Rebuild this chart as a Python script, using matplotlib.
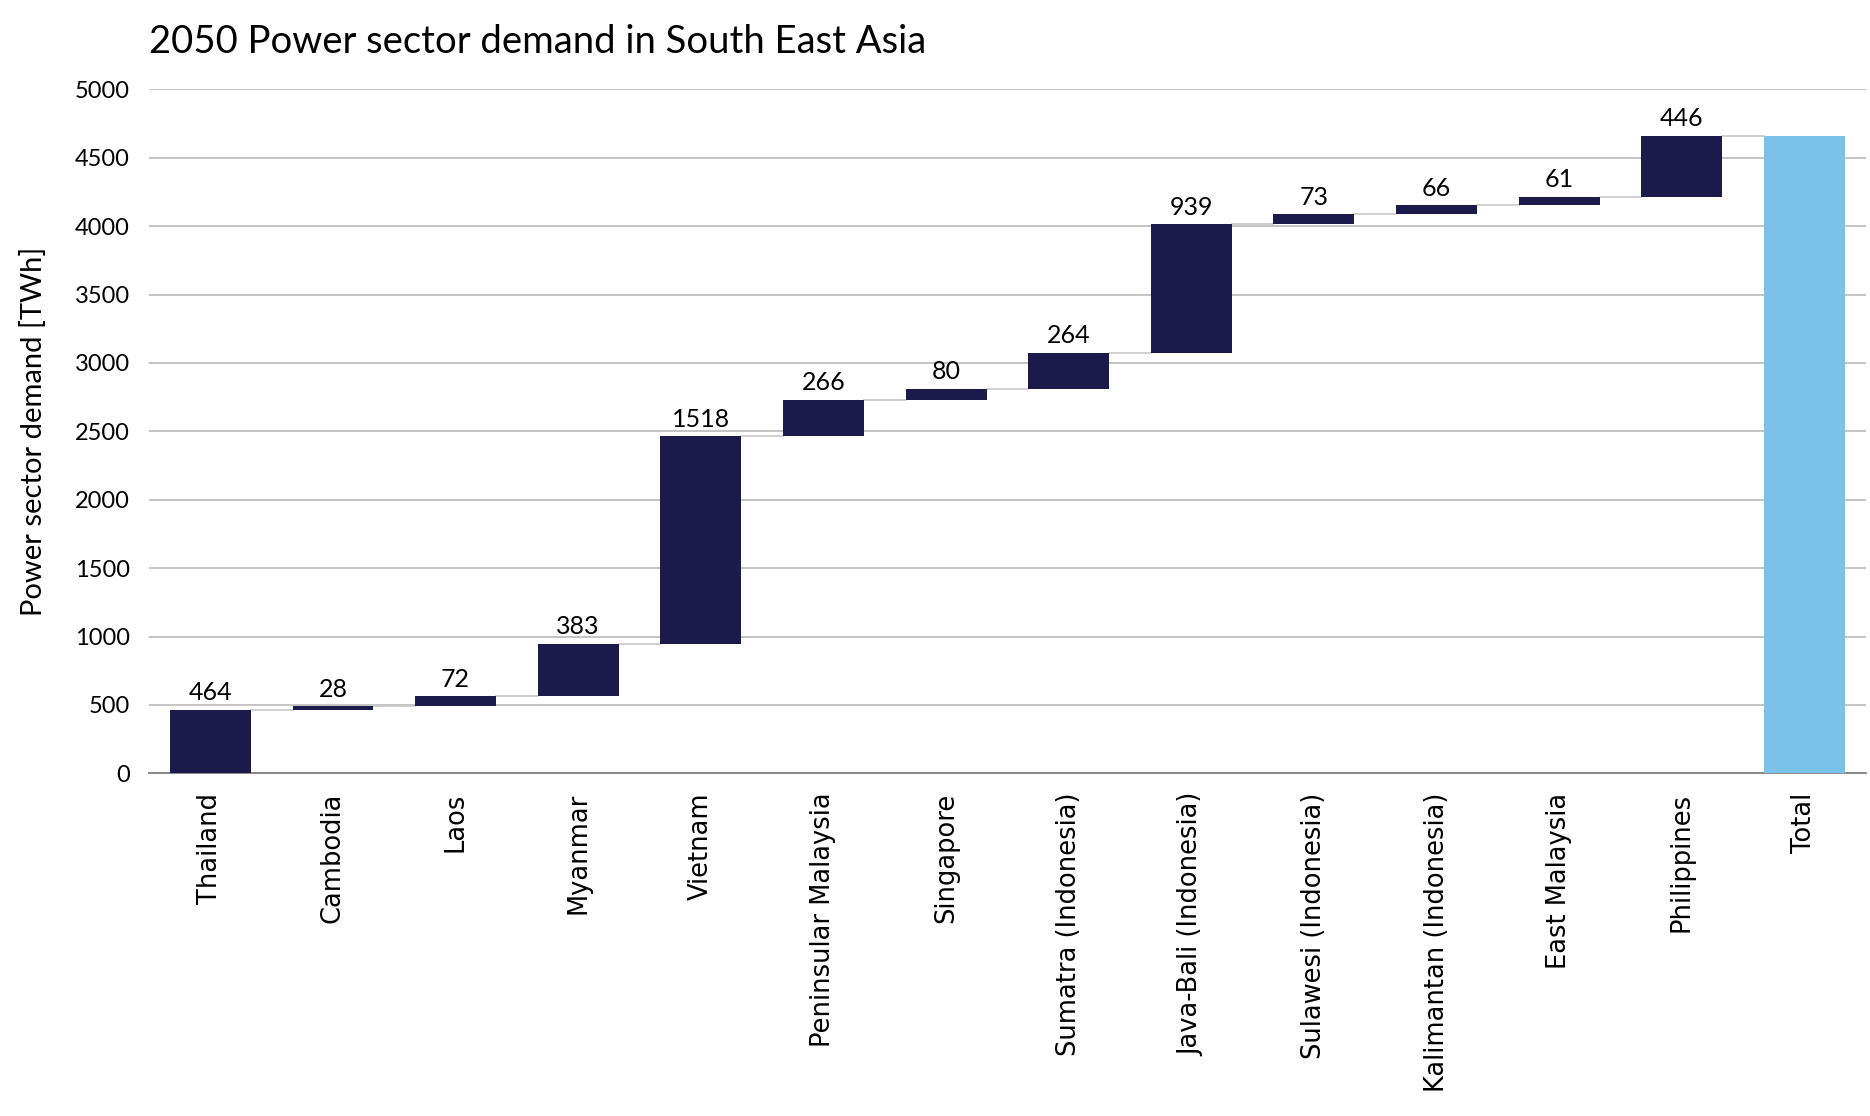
import matplotlib.pyplot as plt
import numpy as np

regions = ['Thailand', 'Cambodia', 'Laos', 'Myanmar', 'Vietnam', 'Peninsular Malaysia',
           'Singapore', 'Sumatra (Indonesia)', 'Java-Bali (Indonesia)', 'Sulawesi (Indonesia)',
           'Kalimantan (Indonesia)', 'East Malaysia', 'Philippines']
demand = [464, 28, 72, 383, 1518, 266, 80, 264, 939, 73, 66, 61, 446]
yticks = [0, 500, 1000, 1500, 2000, 2500, 3000, 3500, 4000, 4500, 5000]

navy = '#1b1a4a'
sky = '#7bc2eb'

tops = np.cumsum(demand)
bottoms = tops - np.array(demand)
total = tops[-1]
labels = regions + ['Total']
x = np.arange(len(labels))
w = 0.66

fig = plt.figure(figsize=(18.7, 11.16), dpi=100)
ax = fig.add_axes([0.0797, 0.307, 0.918, 0.613])

ax.bar(x[:-1], demand, bottom=bottoms, width=w, color=navy, zorder=3)
ax.bar(x[-1], total, width=w, color=sky, zorder=3)

# connectors between steps
levels = list(tops)
for i in range(len(levels)):
    ax.plot([x[i] + w / 2, x[i + 1] - w / 2], [levels[i], levels[i]],
            color='#c8c8c8', lw=1.2, zorder=2)

for xi, b, v in zip(x[:-1], bottoms, demand):
    ax.text(xi, b + v + 40, str(v), ha='center', va='bottom',
            fontsize=18, family='Lato', color='black')

ax.set_xlim(-0.5, len(labels) - 0.5)
ax.set_ylim(0, 5000)
ax.set_yticks(yticks)
ax.set_yticklabels([str(t) for t in yticks], family='Lato', fontsize=17)
ax.set_xticks(x)
ax.set_xticklabels(labels, rotation=90, fontsize=18.5, family='DejaVu Sans')
ax.tick_params(axis='both', length=0)
ax.tick_params(axis='x', pad=14)
ax.tick_params(axis='y', pad=14)
ax.grid(axis='y', color='#bfbfbf', lw=1.3, zorder=0)
for s in ['top', 'right', 'left']:
    ax.spines[s].set_visible(False)
ax.spines['bottom'].set_color('#808080')
ax.spines['bottom'].set_linewidth(1.3)

ax.set_ylabel('Power sector demand [TWh]', family='Lato', fontsize=21, labelpad=20)
fig.text(0.0797, 0.962, '2050 Power sector demand in South East Asia',
         family='Lato', fontsize=27.5, va='center', ha='left')

fig.savefig('out.png', dpi=100)
